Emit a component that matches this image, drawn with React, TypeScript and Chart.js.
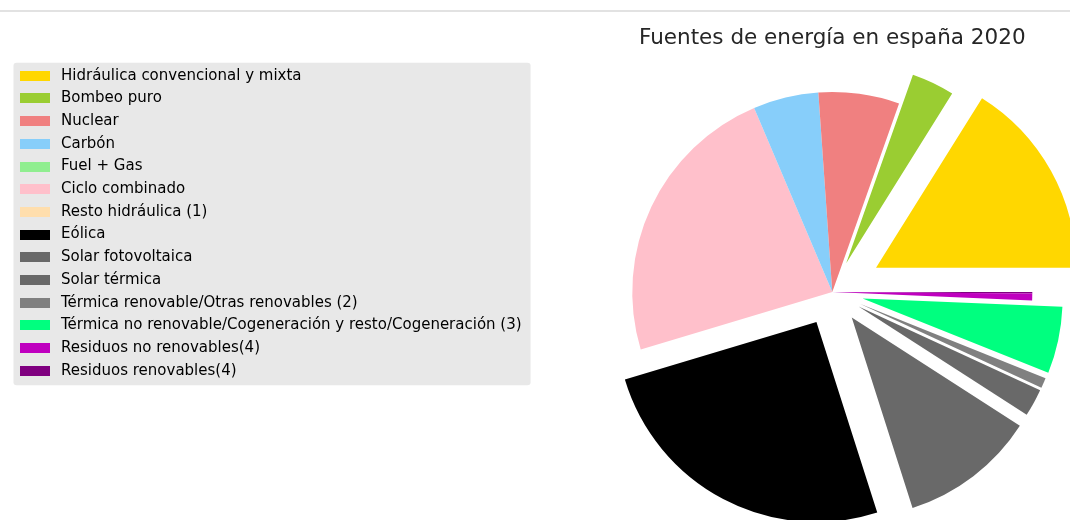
import React, { useEffect, useRef } from 'react';
import { Chart, registerables } from 'chart.js';

Chart.register(...registerables);

// ---- Data ----
const chartTitle = 'Fuentes de energía en españa 2020';

const labels = [
  'Hidráulica convencional y mixta',
  'Bombeo puro',
  'Nuclear',
  'Carbón',
  'Fuel + Gas',
  'Ciclo combinado',
  'Resto hidráulica (1)',
  'Eólica',
  'Solar fotovoltaica',
  'Solar térmica',
  'Térmica renovable/Otras renovables (2)',
  'Térmica no renovable/Cogeneración y resto/Cogeneración (3)',
  'Residuos no renovables(4)',
  'Residuos renovables(4)',
];

// installed power (MW)
const values = [17400, 3750, 7050, 5700, 0, 25110, 0, 27300, 11850, 2400, 900, 5820, 600, 120];

const colors = [
  '#FFD700', '#9ACD32', '#F08080', '#87CEFA', '#90EE90', '#FFC0CB', '#FFDEAD',
  '#000000', '#696969', '#696969', '#808080', '#00FF7F', '#BF00BF', '#800080',
];

// fraction of the radius each slice is pulled out
const explode = [0.25, 0.16, 0, 0, 0, 0, 0, 0.17, 0.16, 0.15, 0.15, 0.155, 0, 0];

const FONT = "'DejaVu Sans', 'Liberation Sans', sans-serif";
const TEXT_COLOR = '#262626';

// The figure is wider than the window (as in the cropped reference screenshot)
const CANVAS_W = 1160;
const CANVAS_H = 520;

// Pull slices out along their mid angle (without changing the radius)
const explodePlugin = {
  id: 'explodeSlices',
  afterDatasetUpdate(chart: any, args: any) {
    const ds: any = chart.data.datasets[args.index];
    const ex: number[] = ds.explode || [];
    args.meta.data.forEach((arc: any, i: number) => {
      const f = ex[i] || 0;
      if (!f) return;
      const mid = (arc.startAngle + arc.endAngle) / 2;
      const d = f * arc.outerRadius;
      arc.x += Math.cos(mid) * d;
      arc.y += Math.sin(mid) * d;
    });
  },
};

// Grey frame behind the legend (matplotlib-like)
const legendBoxPlugin = {
  id: 'legendBox',
  beforeDraw(chart: any) {
    const lg = chart.legend;
    const hb = lg && lg.legendHitBoxes;
    if (!hb || !hb.length) return;
    const first = hb[0];
    const last = hb[hb.length - 1];
    const left = first.left - 2;
    const top = first.top - 5.5;
    const right = Math.max(...hb.map((h: any) => h.left + h.width)) + 9;
    const bottom = last.top + last.height + 7;
    const ctx = chart.ctx;
    ctx.save();
    ctx.fillStyle = '#e8e8e8';
    ctx.beginPath();
    if ((ctx as any).roundRect) (ctx as any).roundRect(left, top, right - left, bottom - top, 3);
    else ctx.rect(left, top, right - left, bottom - top);
    ctx.fill();
    ctx.restore();
  },
};

function makeSwatch(color: string): HTMLCanvasElement {
  const c = document.createElement('canvas');
  c.width = 30;
  c.height = 10;
  const g = c.getContext('2d')!;
  g.fillStyle = color;
  g.fillRect(0, 0, 30, 10);
  return c;
}

export default function App() {
  const canvasRef = useRef<HTMLCanvasElement | null>(null);

  useEffect(() => {
    if (!canvasRef.current) return;
    const swatches = colors.map(makeSwatch);
    // matplotlib draws counter-clockwise from 3 o'clock; Chart.js goes clockwise,
    // so the slices are fed in reverse order starting at 3 o'clock.
    const rev = <T,>(a: T[]) => a.slice().reverse();

    const chart = new Chart(canvasRef.current, {
      type: 'pie',
      data: {
        labels: rev(labels),
        datasets: [
          {
            data: rev(values),
            backgroundColor: rev(colors),
            borderWidth: 0,
            explode: rev(explode),
          } as any,
        ],
      },
      options: {
        responsive: false,
        animation: false,
        rotation: 90,
        radius: 200,
        layout: { padding: { top: 0, bottom: 73.5, left: 7.8, right: 27 } },
        plugins: {
          tooltip: { enabled: false },
          title: {
            display: true,
            text: chartTitle,
            fullSize: false,
            color: TEXT_COLOR,
            font: { family: FONT, size: 21.5, weight: 'normal' },
            padding: { top: 25.7, bottom: 86 },
          },
          legend: {
            position: 'left',
            align: 'center',
            labels: {
              usePointStyle: true,
              pointStyleWidth: 38,
              padding: 7.7,
              color: TEXT_COLOR,
              font: { family: FONT, size: 15 },
              generateLabels: () =>
                labels.map((text, i) => ({
                  text,
                  fillStyle: colors[i],
                  strokeStyle: colors[i],
                  lineWidth: 0,
                  pointStyle: swatches[i],
                  hidden: false,
                  index: i,
                })) as any,
            },
          },
        },
      } as any,
      plugins: [explodePlugin, legendBoxPlugin],
    });
    return () => chart.destroy();
  }, []);

  return (
    <div style={{ position: 'fixed', left: 0, top: 0, width: 1070, height: 520, background: '#fff', overflow: 'hidden' }}>
      <canvas
        ref={canvasRef}
        width={CANVAS_W}
        height={CANVAS_H}
        style={{ width: CANVAS_W, height: CANVAS_H, display: 'block' }}
      />
      <div style={{ position: 'absolute', left: 0, top: 10, width: 1070, height: 2, background: '#e2e2e2' }} />
    </div>
  );
}
